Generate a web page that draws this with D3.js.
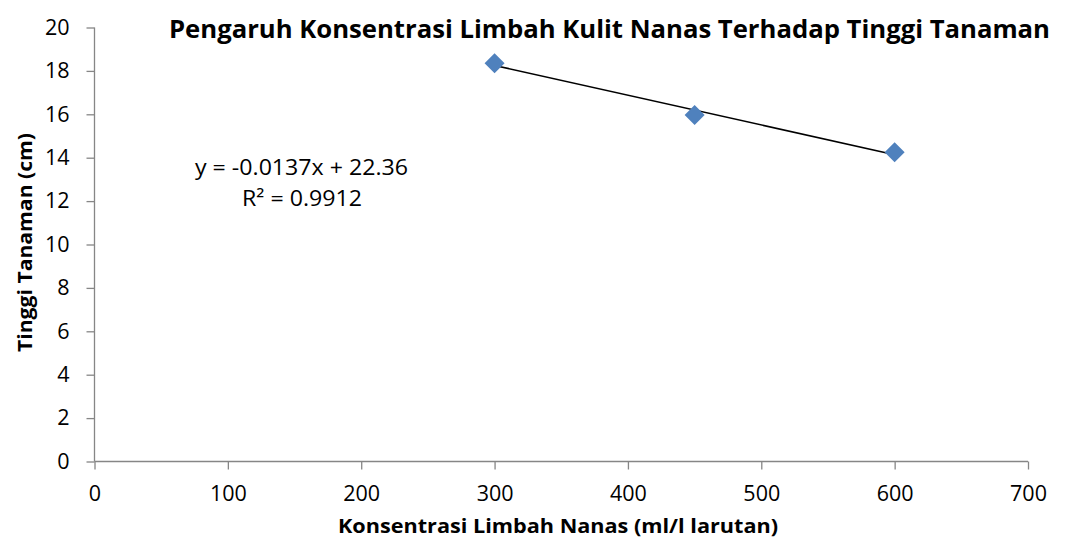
<!DOCTYPE html>
<html>
<head>
<meta charset="utf-8">
<script src="https://cdn.jsdelivr.net/npm/d3@7"></script>
<style>
  body { margin: 0; background: #fff; }
  text { font-family: "Open Sans", "Liberation Sans", sans-serif; fill: #000; }
</style>
</head>
<body>
<div id="chart"></div>
<script>
// data
var konsentrasi = [300, 450, 600];
var tinggi = [18.35, 15.97, 14.25];
var xTicks = [0, 100, 200, 300, 400, 500, 600, 700];
var yTicks = [0, 2, 4, 6, 8, 10, 12, 14, 16, 18, 20];
var trend = { slope: -0.0137, intercept: 22.36, r2: 0.9912 };

var width = 1065, height = 541;

var svg = d3.select("#chart")
    .append("svg")
    .attr("width", width)
    .attr("height", height);

var x = d3.scaleLinear().domain([0, 700]).range([94.5, 1028]);
var y = d3.scaleLinear().domain([0, 20]).range([461.5, 27.5]);

/* axes */
var yAxis = svg.append("g")
    .attr("transform", "translate(" + x(0) + ",0)")
    .call(d3.axisLeft(y).tickValues(yTicks).tickSize(8).tickPadding(17));

var xAxis = svg.append("g")
    .attr("transform", "translate(0," + y(0) + ")")
    .call(d3.axisBottom(x).tickValues(xTicks).tickSize(8).tickPadding(16));

[xAxis, yAxis].forEach(function(a){
    a.select(".domain").attr("stroke", "#868686").attr("stroke-width", 1.3);
    a.selectAll(".tick line").attr("stroke", "#868686").attr("stroke-width", 1.3);
    a.selectAll(".tick text")
        .style("font-family", "'Open Sans', sans-serif")
        .style("font-size", "21.5px")
        .attr("fill", "#000");
});
// no outer end caps
xAxis.select(".domain").attr("d", "M" + x(0) + ",0H" + x(700));
yAxis.select(".domain").attr("d", "M0," + y(0) + "V" + y(20));

/* trend line */
var xs = d3.extent(konsentrasi);
svg.append("line")
    .attr("x1", x(xs[0]))
    .attr("y1", y(trend.slope * xs[0] + trend.intercept))
    .attr("x2", x(xs[1]))
    .attr("y2", y(trend.slope * xs[1] + trend.intercept))
    .attr("stroke", "#000")
    .attr("stroke-width", 1.6);

/* points */
svg.selectAll("path.pt")
    .data(konsentrasi)
    .enter().append("path")
    .attr("class", "pt")
    .attr("d", d3.symbol().type(d3.symbolSquare).size(200))
    .attr("transform", function(d, i){
        return "translate(" + x(d) + "," + y(tinggi[i]) + ") rotate(45)";
    })
    .attr("fill", "#4F81BD");

/* texts - textLength keeps the widths of the original (narrower) font */
svg.append("text")
    .attr("x", 609.5).attr("y", 38)
    .attr("text-anchor", "middle")
    .attr("textLength", 881).attr("lengthAdjust", "spacingAndGlyphs")
    .style("font-size", "24.5px")
    .style("font-weight", "bold")
    .text("Pengaruh Konsentrasi Limbah Kulit Nanas Terhadap Tinggi Tanaman");

svg.append("text")
    .attr("x", 558).attr("y", 533)
    .attr("text-anchor", "middle")
    .attr("textLength", 440).attr("lengthAdjust", "spacingAndGlyphs")
    .style("font-size", "20px")
    .style("font-weight", "bold")
    .text("Konsentrasi Limbah Nanas (ml/l larutan)");

svg.append("text")
    .attr("transform", "translate(32,242.5) rotate(-90)")
    .attr("text-anchor", "middle")
    .attr("textLength", 219).attr("lengthAdjust", "spacingAndGlyphs")
    .style("font-size", "20px")
    .style("font-weight", "bold")
    .text("Tinggi Tanaman (cm)");

svg.append("text")
    .attr("x", 301.5).attr("y", 175)
    .attr("text-anchor", "middle")
    .attr("textLength", 213).attr("lengthAdjust", "spacingAndGlyphs")
    .style("font-size", "21px")
    .text("y = " + trend.slope + "x + " + trend.intercept);

svg.append("text")
    .attr("x", 302).attr("y", 206)
    .attr("text-anchor", "middle")
    .attr("textLength", 120).attr("lengthAdjust", "spacingAndGlyphs")
    .style("font-size", "21px")
    .text("R\u00B2 = " + trend.r2);
</script>
</body>
</html>
